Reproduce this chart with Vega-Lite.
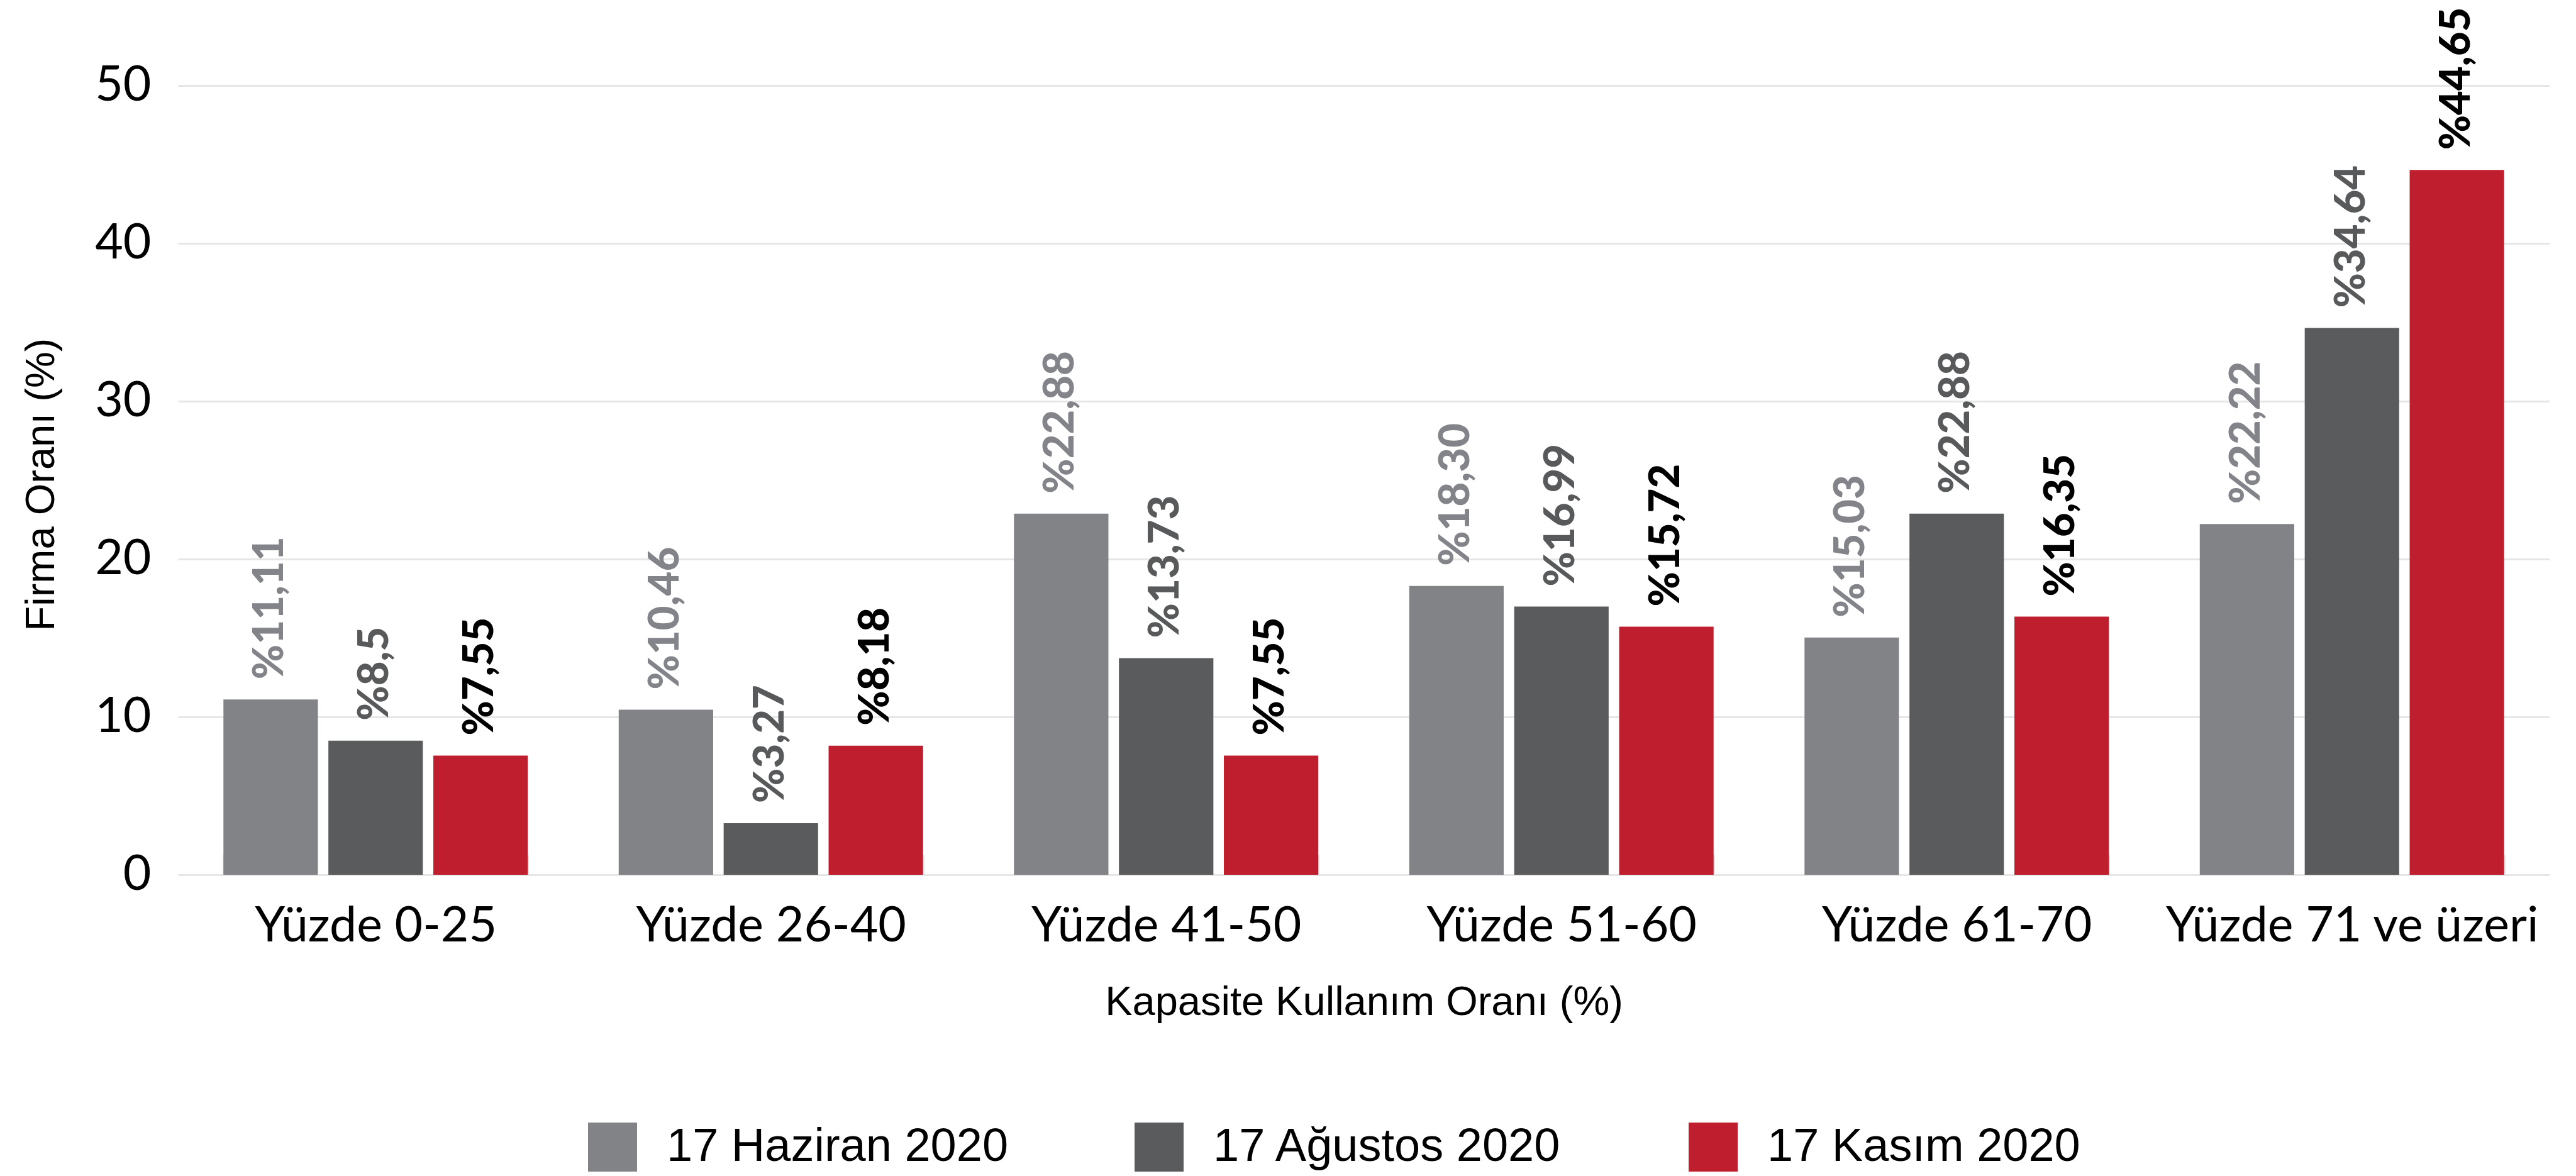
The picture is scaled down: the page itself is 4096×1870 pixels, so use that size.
{
  "$schema": "https://vega.github.io/schema/vega-lite/v6.json",
  "autosize": {"type": "none"},
  "padding": {"left": 283, "top": 136, "right": 42, "bottom": 478},
  "width": 3771,
  "height": 1255,
  "background": "white",
  "config": {"view": {"stroke": null}},
  "data": {"values": [
    {"kategori": "Yüzde 0-25", "seri": "17 Haziran 2020", "deger": 11.11, "etiket": "%11,11"},
    {"kategori": "Yüzde 0-25", "seri": "17 Ağustos 2020", "deger": 8.5, "etiket": "%8,5"},
    {"kategori": "Yüzde 0-25", "seri": "17 Kasım 2020", "deger": 7.55, "etiket": "%7,55"},
    {"kategori": "Yüzde 26-40", "seri": "17 Haziran 2020", "deger": 10.46, "etiket": "%10,46"},
    {"kategori": "Yüzde 26-40", "seri": "17 Ağustos 2020", "deger": 3.27, "etiket": "%3,27"},
    {"kategori": "Yüzde 26-40", "seri": "17 Kasım 2020", "deger": 8.18, "etiket": "%8,18"},
    {"kategori": "Yüzde 41-50", "seri": "17 Haziran 2020", "deger": 22.88, "etiket": "%22,88"},
    {"kategori": "Yüzde 41-50", "seri": "17 Ağustos 2020", "deger": 13.73, "etiket": "%13,73"},
    {"kategori": "Yüzde 41-50", "seri": "17 Kasım 2020", "deger": 7.55, "etiket": "%7,55"},
    {"kategori": "Yüzde 51-60", "seri": "17 Haziran 2020", "deger": 18.30, "etiket": "%18,30"},
    {"kategori": "Yüzde 51-60", "seri": "17 Ağustos 2020", "deger": 16.99, "etiket": "%16,99"},
    {"kategori": "Yüzde 51-60", "seri": "17 Kasım 2020", "deger": 15.72, "etiket": "%15,72"},
    {"kategori": "Yüzde 61-70", "seri": "17 Haziran 2020", "deger": 15.03, "etiket": "%15,03"},
    {"kategori": "Yüzde 61-70", "seri": "17 Ağustos 2020", "deger": 22.88, "etiket": "%22,88"},
    {"kategori": "Yüzde 61-70", "seri": "17 Kasım 2020", "deger": 16.35, "etiket": "%16,35"},
    {"kategori": "Yüzde 71 ve üzeri", "seri": "17 Haziran 2020", "deger": 22.22, "etiket": "%22,22"},
    {"kategori": "Yüzde 71 ve üzeri", "seri": "17 Ağustos 2020", "deger": 34.64, "etiket": "%34,64"},
    {"kategori": "Yüzde 71 ve üzeri", "seri": "17 Kasım 2020", "deger": 44.65, "etiket": "%44,65"}
  ]},
  "encoding": {
    "x": {
      "field": "kategori", "type": "nominal", "sort": null,
      "scale": {"paddingInner": 0.23, "paddingOuter": 0.115},
      "axis": {
        "title": "Kapasite Kullanım Oranı (%)",
        "titleFont": "Liberation Sans", "titleFontSize": 65, "titleFontWeight": "normal", "titleColor": "#000000",
        "titleY": 222, "titleBaseline": "alphabetic",
        "labelAngle": 0, "labelFont": "Lato", "labelFontSize": 77, "labelColor": "#000000",
        "labelPadding": 76, "labelLimit": 2000, "labelBaseline": "top",
        "domain": false, "ticks": true, "tickBand": "extent", "tickSize": -32,
        "tickColor": "#e3e3e3", "tickWidth": 3, "grid": false
      }
    },
    "xOffset": {"field": "seri", "type": "nominal", "sort": null, "scale": {"paddingInner": 0.1, "paddingOuter": 0}},
    "y": {
      "field": "deger", "type": "quantitative",
      "scale": {"domain": [0, 50], "nice": false},
      "axis": {
        "title": "Firma Oranı (%)",
        "titleFont": "Liberation Sans", "titleFontSize": 65, "titleFontWeight": "normal", "titleColor": "#000000",
        "titleX": -198, "titleY": 634, "titleAngle": 270, "titleBaseline": "alphabetic", "titleAlign": "center",
        "values": [0, 10, 20, 30, 40, 50],
        "labelFont": "Lato", "labelFontSize": 77, "labelColor": "#000000", "labelPadding": 43,
        "domain": false, "ticks": false,
        "grid": true, "gridColor": "#e6e6e6", "gridWidth": 3
      }
    }
  },
  "layer": [
    {
      "mark": {"type": "bar"},
      "encoding": {
        "color": {
          "field": "seri", "type": "nominal", "sort": null,
          "scale": {"domain": ["17 Haziran 2020", "17 Ağustos 2020", "17 Kasım 2020"], "range": ["#828387", "#5a5b5d", "#be1e2d"]},
          "legend": {
            "orient": "none", "legendX": 652, "legendY": 1649, "direction": "horizontal",
            "title": null, "padding": 0, "symbolType": "square", "symbolSize": 6084, "symbolStrokeWidth": 0,
            "symbolOpacity": 1,
            "labelFont": "Liberation Sans", "labelFontSize": 74, "labelColor": "#000000", "labelOffset": 47,
            "labelLimit": 2000, "columnPadding": 200
          }
        }
      }
    },
    {
      "mark": {"type": "text", "angle": 270, "align": "left", "baseline": "middle", "dx": 32, "font": "Lato", "fontWeight": 900, "fontSize": 67},
      "encoding": {
        "text": {"field": "etiket"},
        "color": {
          "condition": [
            {"test": "datum.seri === '17 Haziran 2020'", "value": "#838489"},
            {"test": "datum.seri === '17 Ağustos 2020'", "value": "#58595b"}
          ],
          "value": "#000000"
        }
      }
    }
  ]
}
